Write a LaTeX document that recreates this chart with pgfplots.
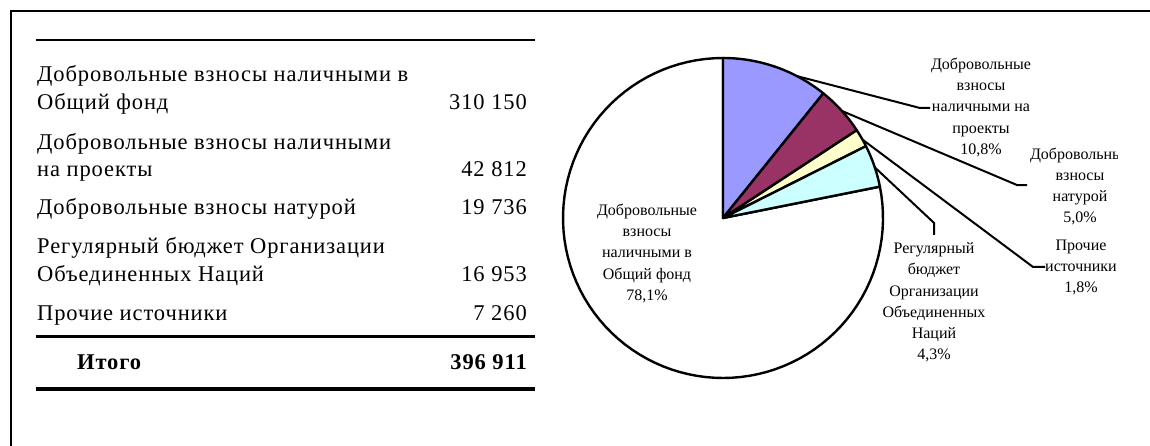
\documentclass[border=0pt]{standalone}
\usepackage{pgfplots}
\pgfplotsset{compat=1.18}
\usepackage{fontspec}
\setmainfont{Liberation Serif}
\newfontfamily\tabfont[LetterSpace=4]{Liberation Serif}
\definecolor{pblue}{HTML}{9999FF}
\definecolor{pmaroon}{HTML}{993366}
\definecolor{pyellow}{HTML}{FFFFCC}
\definecolor{pcyan}{HTML}{CCFFFF}
% data (thousands of US dollars)
\def\vProj{42812}\def\vKind{19736}\def\vOther{7260}\def\vReg{16953}\def\vGen{310150}
\edef\tot{\fpeval{\vProj+\vKind+\vOther+\vReg+\vGen}}
\edef\aA{90}
\edef\aB{\fpeval{\aA-360*\vProj/\tot}}
\edef\aC{\fpeval{\aB-360*\vKind/\tot}}
\edef\aD{\fpeval{\aC-360*\vOther/\tot}}
\edef\aE{\fpeval{\aD-360*\vReg/\tot}}
\edef\aF{\fpeval{\aE-360*\vGen/\tot}}
\begin{document}
\begin{tikzpicture}[x=1pt,y=1pt]
\path[use as bounding box] (0,0) rectangle (1150,446);
\draw[line width=2pt] (10.5,0) -- (10.5,435) -- (1150,435);
% table
\begin{scope}[every node/.style={inner sep=0pt, font=\tabfont\fontsize{22.5}{28}\selectfont}]
\draw[line width=2.5pt] (36,406) -- (535,406);
\node[anchor=base west] at (37,364.3) {Добровольные взносы наличными в};
\node[anchor=base west] at (37,336) {Общий фонд};
\node[anchor=base east] at (527,336) {310 150};
\node[anchor=base west] at (37,296) {Добровольные взносы наличными};
\node[anchor=base west] at (37,269.3) {на проекты};
\node[anchor=base east] at (527,269.3) {42 812};
\node[anchor=base west] at (37,231) {Добровольные взносы натурой};
\node[anchor=base east] at (527,231) {19 736};
\node[anchor=base west] at (37,192) {Регулярный бюджет Организации};
\node[anchor=base west] at (37,164.3) {Объединенных Наций};
\node[anchor=base east] at (527,164.3) {16 953};
\node[anchor=base west] at (37,125.3) {Прочие источники};
\node[anchor=base east] at (527,125.3) {7 260};
\draw[line width=3pt] (36,109) -- (535,109);
\node[anchor=base west] at (77,76) {\bfseries Итого};
\node[anchor=base east] at (527,76) {\bfseries 396 911};
\draw[line width=4.5pt] (36,57) -- (535,57);
\end{scope}
% pie
\begin{axis}[at={(723pt,228pt)}, anchor=center, hide axis, x=160pt, y=160pt,
  xmin=-1, xmax=1, ymin=-1, ymax=1, clip=false, samples=90]
\addplot[fill=white, draw=black, line width=2.4pt, line join=round, domain=\aF:\aE] ({cos(x)},{sin(x)}) -- (0,0) -- cycle;
\addplot[fill=pblue, draw=black, line width=2.4pt, line join=round, domain=\aB:\aA] ({cos(x)},{sin(x)}) -- (0,0) -- cycle;
\addplot[fill=pmaroon, draw=black, line width=2.4pt, line join=round, domain=\aC:\aB] ({cos(x)},{sin(x)}) -- (0,0) -- cycle;
\addplot[fill=pyellow, draw=black, line width=2.4pt, line join=round, domain=\aD:\aC] ({cos(x)},{sin(x)}) -- (0,0) -- cycle;
\addplot[fill=pcyan, draw=black, line width=2.4pt, line join=round, domain=\aE:\aD] ({cos(x)},{sin(x)}) -- (0,0) -- cycle;
\addplot[black, line width=2pt] coordinates {(0.4625,0.8866) (1.231,0.6875) (1.294,0.6875)};
\addplot[black, line width=2pt] coordinates {(0.743,0.669) (1.8375,0.206) (1.9,0.206)};
\addplot[black, line width=2pt] coordinates {(0.875,0.4875) (1.9375,-0.306) (2.0125,-0.306)};
\addplot[black, line width=2pt] coordinates {(0.948,0.317) (1.319,-0.031) (1.319,-0.106)};
\end{axis}
% pie labels
\begin{scope}[every node/.style={inner sep=0pt, align=center, font=\fontsize{16}{21.3}\selectfont}]
\node at (981,338.5) {Добровольные\\взносы\\наличными на\\проекты\\10,8\%};
\node at (934,143.5) {Регулярный\\бюджет\\Организации\\Объединенных\\Наций\\4,3\%};
\node at (647,192.5) {Добровольные\\взносы\\наличными в\\Общий фонд\\78,1\%};
\begin{scope}
\clip (0,0) rectangle (1117,446);
\node at (1080,259.5) {Добровольные\\взносы\\натурой\\5,0\%};
\node at (1081,178.5) {Прочие\\источники\\1,8\%};
\end{scope}
\end{scope}
\end{tikzpicture}
\end{document}
